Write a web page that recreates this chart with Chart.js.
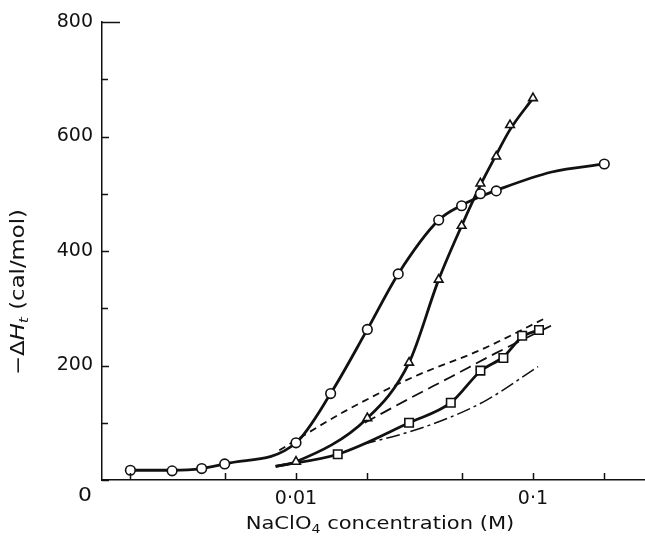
<!DOCTYPE html>
<html>
<head>
<meta charset="utf-8">
<script src="https://cdn.jsdelivr.net/npm/chart.js@4/dist/chart.umd.min.js"></script>
<style>
  html, body { margin: 0; padding: 0; background: #fff; }
  #wrap { width: 645px; height: 544px; }
</style>
</head>
<body>
<div id="wrap"><canvas id="c" width="645" height="544"></canvas></div>
<script>
// Measured points: NaClO4 concentration (M) and -ΔHt (cal/mol)
const circleConc   = [0.002, 0.003, 0.004, 0.005, 0.01, 0.014, 0.02, 0.027, 0.04, 0.05, 0.06, 0.07, 0.2];
const circleDH     = [17, 16, 20, 28, 65, 151, 263, 360, 454, 479, 500, 505, 552];
const triangleConc = [0.01, 0.02, 0.03, 0.04, 0.05, 0.06, 0.07, 0.08, 0.1];
const triangleDH   = [32, 108, 205, 350, 444, 518, 565, 620, 667];
const squareConc   = [0.015, 0.03, 0.045, 0.06, 0.075, 0.09, 0.106];
const squareDH     = [45, 100, 135, 191, 213, 252, 262];

// Smooth curves drawn through each measured series
const circleCurveConc   = [0.002, 0.003, 0.004, 0.005, 0.01, 0.014, 0.02, 0.027, 0.04, 0.05, 0.06, 0.07, 0.12, 0.2];
const circleCurveDH     = [17, 17, 20, 28, 65, 151, 263, 360, 454, 480, 495, 506, 538, 552];
const triangleCurveConc = [0.0082, 0.01, 0.02, 0.03, 0.04, 0.05, 0.06, 0.07, 0.08, 0.1];
const triangleCurveDH   = [24, 32, 108, 205, 350, 444, 515, 568, 612, 667];
const squareCurveConc   = [0.0082, 0.015, 0.03, 0.045, 0.06, 0.075, 0.09, 0.106];
const squareCurveDH     = [24, 45, 100, 135, 190, 215, 250, 262];

// Calculated curves
const dashAConc = [0.0085, 0.0164, 0.0313, 0.06, 0.112];
const dashADH   = [52, 122, 180, 227, 282];
const dashBConc = [0.0195, 0.03, 0.045, 0.07, 0.12];
const dashBDH   = [100, 142, 180, 222, 270];
const dashCConc = [0.019, 0.03, 0.045, 0.064, 0.105];
const dashCDH   = [62, 84, 110, 140, 198];

// Axis ticks
const xTickValues   = [0.002, 0.005, 0.01, 0.02, 0.05, 0.1, 0.2];
const xLabelValues  = [0.01, 0.1];
const xLabelTexts   = ['0·01', '0·1'];
const yMajorTicks   = [0, 200, 400, 600, 800];
const yMinorTicks   = [100, 300, 500, 700];

const INK = '#111';
const FONT = '"DejaVu Sans", sans-serif';

const pts = (xs, ys) => xs.map((x, i) => ({ x: x, y: ys[i] }));

const markerSet = (label, xs, ys, style, radius) => ({
  label: label,
  data: pts(xs, ys),
  showLine: false,
  pointStyle: style,
  pointRadius: radius,
  pointBackgroundColor: '#fff',
  pointBorderColor: INK,
  pointBorderWidth: 1.6
});

const curveSet = (label, xs, ys, dash, width) => ({
  label: label,
  data: pts(xs, ys),
  borderColor: INK,
  borderWidth: width,
  borderDash: dash,
  cubicInterpolationMode: 'monotone',
  pointRadius: 0,
  fill: false
});

// draws text stretched horizontally so the wide lettering keeps its length
function stretchedRun(ctx, parts, cx, cy, stretch) {
  let total = 0;
  parts.forEach(p => { ctx.font = p.f; p.w = ctx.measureText(p.t).width * stretch; total += p.w; });
  let x = cx - total / 2;
  parts.forEach(p => {
    ctx.save();
    ctx.font = p.f;
    ctx.translate(x, cy + p.dy);
    ctx.scale(stretch, 1);
    ctx.fillText(p.t, 0, 0);
    ctx.restore();
    x += p.w;
  });
}

// inward tick marks, the loose "0" at the origin, and the two axis titles
const axisDecor = {
  id: 'axisDecor',
  afterDraw(chart) {
    const ctx = chart.ctx;
    const xs = chart.scales.x, ys = chart.scales.y;
    const left = chart.chartArea.left, bottom = chart.chartArea.bottom;
    ctx.save();
    ctx.strokeStyle = INK;
    ctx.lineWidth = 1.5;
    ctx.beginPath();
    xTickValues.forEach(v => {
      const px = Math.round(xs.getPixelForValue(v)) + 0.5;
      ctx.moveTo(px, bottom);
      ctx.lineTo(px, bottom - 7);
    });
    yMajorTicks.forEach(v => {
      const py = Math.round(ys.getPixelForValue(v)) + 0.5;
      ctx.moveTo(left, py);
      ctx.lineTo(left + (v === 800 ? 18 : 7), py);
    });
    yMinorTicks.forEach(v => {
      const py = Math.round(ys.getPixelForValue(v)) + 0.5;
      ctx.moveTo(left, py);
      ctx.lineTo(left + 6, py);
    });
    ctx.stroke();

    ctx.fillStyle = INK;
    ctx.textBaseline = 'middle';
    ctx.textAlign = 'left';
    stretchedRun(ctx, [{ t: '0', f: '19px ' + FONT, dy: 0 }], left - 17, bottom + 16, 1.15);

    // x title with subscript 4
    stretchedRun(ctx, [
      { t: 'NaClO', f: '18px ' + FONT, dy: 0 },
      { t: '4', f: '12px ' + FONT, dy: 6 },
      { t: ' concentration (M)', f: '18px ' + FONT, dy: 0 }
    ], 380, 524, 1.17);

    // y title, rotated: −ΔH_t (cal/mol)
    ctx.translate(19, 292);
    ctx.rotate(-Math.PI / 2);
    stretchedRun(ctx, [
      { t: '−Δ', f: '19px ' + FONT, dy: 0 },
      { t: 'H', f: 'italic 19px ' + FONT, dy: 0 },
      { t: 't', f: 'italic 13px ' + FONT, dy: 6 },
      { t: ' (cal/mol)', f: '19px ' + FONT, dy: 0 }
    ], 0, 0, 1.2);
    ctx.restore();
  }
};

new Chart(document.getElementById('c'), {
  type: 'line',
  data: {
    datasets: [
      markerSet('circles', circleConc, circleDH, 'circle', 4.8),
      markerSet('triangles', triangleConc, triangleDH, 'triangle', 5),
      markerSet('squares', squareConc, squareDH, 'rect', 6),
      curveSet('circle curve', circleCurveConc, circleCurveDH, [], 2.8),
      curveSet('triangle curve', triangleCurveConc, triangleCurveDH, [], 2.8),
      curveSet('square curve', squareCurveConc, squareCurveDH, [], 2.8),
      curveSet('calc A', dashAConc, dashADH, [7, 5], 1.8),
      curveSet('calc B', dashBConc, dashBDH, [12, 6], 1.8),
      curveSet('calc C', dashCConc, dashCDH, [14, 4, 3, 4], 1.5)
    ]
  },
  options: {
    responsive: false,
    animation: false,
    devicePixelRatio: 1,
    layout: { autoPadding: false, padding: { top: 22, right: 0, bottom: 0, left: 0 } },
    plugins: { legend: { display: false }, tooltip: { enabled: false } },
    scales: {
      x: {
        type: 'logarithmic',
        bounds: 'data',
        min: 0.001518,
        max: 0.297,
        grid: { display: false, drawTicks: false },
        border: { display: true, color: INK, width: 1.5 },
        afterBuildTicks: s => { s.ticks = xTickValues.map(v => ({ value: v })); },
        afterFit: s => { s.height = 64; },
        ticks: {
          autoSkip: false,
          maxRotation: 0,
          padding: 8,
          color: INK,
          font: { family: FONT, size: 19 },
          callback: v => {
            const i = xLabelValues.findIndex(t => Math.abs(t - v) < 1e-9);
            return i >= 0 ? xLabelTexts[i] : '';
          }
        }
      },
      y: {
        type: 'linear',
        bounds: 'data',
        min: 0,
        max: 800,
        grid: { display: false, drawTicks: false },
        border: { display: true, color: INK, width: 1.5 },
        afterBuildTicks: s => { s.ticks = yMajorTicks.concat(yMinorTicks).sort((a, b) => a - b).map(v => ({ value: v })); },
        afterFit: s => { s.width = 102; },
        ticks: {
          autoSkip: false,
          padding: 9,
          color: INK,
          font: { family: FONT, size: 19 },
          callback: v => (yMajorTicks.includes(v) && v !== 0) ? String(v) : ''
        }
      }
    }
  },
  plugins: [axisDecor]
});
</script>
</body>
</html>
